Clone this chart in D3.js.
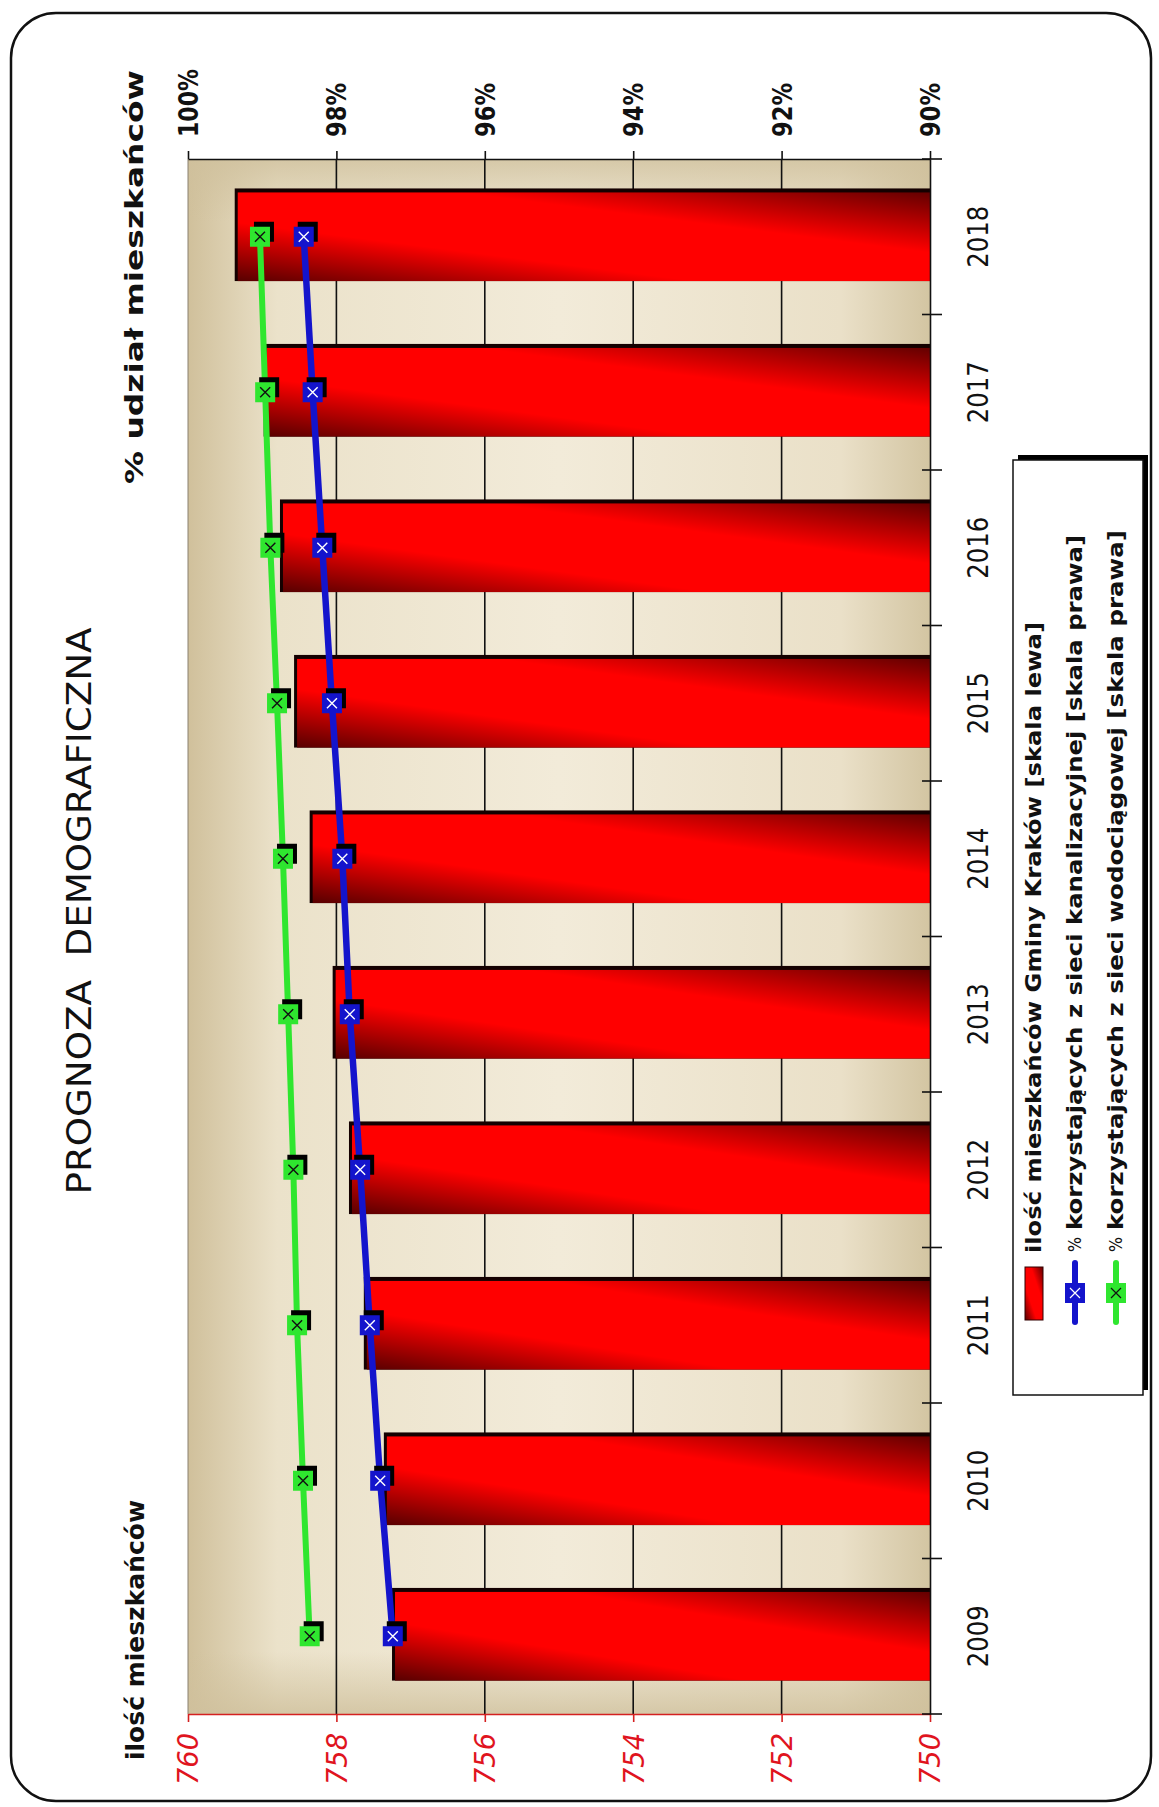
<!DOCTYPE html>
<html>
<head>
<meta charset="utf-8">
<script src="https://cdn.jsdelivr.net/npm/d3@7"></script>
<style>
  body { margin: 0; background: #fff; }
  svg { display: block; }
  text { font-family: "Liberation Sans Narrow", "DejaVu Sans Condensed", "Arial Narrow", sans-serif; white-space: pre; }
</style>
</head>
<body>
<div id="chart"></div>
<script>
// DATA
const years = ["2009", "2010", "2011", "2012", "2013", "2014", "2015", "2016", "2017", "2018"];
const residents = [757.21, 757.32, 757.59, 757.79, 758.01, 758.32, 758.53, 758.72, 758.94, 759.33]; // skala lewa
const sewerPct = [97.24, 97.41, 97.55, 97.68, 97.82, 97.92, 98.06, 98.19, 98.32, 98.44];   // kanalizacja, skala prawa
const waterPct = [98.36, 98.45, 98.53, 98.58, 98.65, 98.72, 98.80, 98.89, 98.96, 99.03];   // wodociąg, skala prawa
const leftTicks = [760, 758, 756, 754, 752, 750];
const rightTicks = [100, 98, 96, 94, 92, 90];

const legendLabels = [
    "ilość mieszkańców Gminy Kraków [skala lewa]",
    "korzystających z sieci kanalizacyjnej [skala prawa]",
    "korzystających z sieci wodociągowej [skala prawa]"
];

const W = 1159, H = 1807;
// plot box (chart is drawn turned on its side)
const plot = { left: 188, right: 930, top: 159, bottom: 1714 };

const svg = d3.select("#chart")
    .append("svg")
    .attr("width", W)
    .attr("height", H);

const defs = svg.append("defs");

// background of plot
const bgH = defs.append("linearGradient").attr("id", "bgH");
[[0, "#d0c09b"], [0.12, "#ebe2ca"], [0.5, "#f2ebd9"], [0.88, "#eae0c8"], [1, "#d3c5a2"]]
    .forEach(s => bgH.append("stop").attr("offset", s[0]).attr("stop-color", s[1]));
const bgV = defs.append("linearGradient").attr("id", "bgV").attr("x1", 0).attr("y1", 0).attr("x2", 0).attr("y2", 1);
[[0, "#cfc09c", 0.8], [0.04, "#cfc09c", 0], [0.96, "#cfc09c", 0], [1, "#cfc09c", 0.8]]
    .forEach(s => bgV.append("stop").attr("offset", s[0]).attr("stop-color", s[1]).attr("stop-opacity", s[2]));

// bar fill
const barG = defs.append("linearGradient").attr("id", "barG")
    .attr("x1", 0).attr("y1", 1).attr("x2", 1).attr("y2", 0);
[[0, "#580000"], [0.33, "#ff0000"], [0.66, "#ff0000"], [1, "#640000"]]
    .forEach(s => barG.append("stop").attr("offset", s[0]).attr("stop-color", s[1]));

// SCALES
const xLeft = d3.scaleLinear().domain([750, 760]).range([plot.right, plot.left]);
const xPct = d3.scaleLinear().domain([90, 100]).range([plot.right, plot.left]);
const y = d3.scaleBand()
    .domain(years)
    .range([plot.bottom, plot.top])
    .paddingInner(0.43)
    .paddingOuter(0.215);
const bw = y.bandwidth();

// FRAME
svg.append("rect")
    .attr("x", 11).attr("y", 13)
    .attr("width", 1140).attr("height", 1788)
    .attr("rx", 45)
    .attr("fill", "#fff")
    .attr("stroke", "#111")
    .attr("stroke-width", 2.5);

// PLOT BACKGROUND
svg.append("rect")
    .attr("x", plot.left).attr("y", plot.top)
    .attr("width", plot.right - plot.left).attr("height", plot.bottom - plot.top)
    .attr("fill", "url(#bgH)");
svg.append("rect")
    .attr("x", plot.left).attr("y", plot.top)
    .attr("width", plot.right - plot.left).attr("height", plot.bottom - plot.top)
    .attr("fill", "url(#bgV)");
svg.append("line")
    .attr("x1", plot.left).attr("x2", plot.left)
    .attr("y1", plot.top).attr("y2", plot.bottom)
    .attr("stroke", "#8a8070").attr("stroke-width", 1);

// GRID
svg.append("g")
    .selectAll("line")
    .data(leftTicks.slice(1, -1))
    .join("line")
    .attr("x1", d => xLeft(d)).attr("x2", d => xLeft(d))
    .attr("y1", plot.top).attr("y2", plot.bottom)
    .attr("stroke", "#111").attr("stroke-width", 1.6);

// BARS
const bars = svg.append("g");
bars.selectAll(".shadow")
    .data(years)
    .join("rect")
    .attr("class", "shadow")
    .attr("x", (d, i) => xLeft(residents[i]) - 3)
    .attr("y", d => y(d) - 4)
    .attr("width", (d, i) => xLeft(750) - xLeft(residents[i]) + 3)
    .attr("height", bw + 4)
    .attr("fill", "#140000");
bars.selectAll(".bar")
    .data(years)
    .join("rect")
    .attr("class", "bar")
    .attr("x", (d, i) => xLeft(residents[i]))
    .attr("y", d => y(d))
    .attr("width", (d, i) => xLeft(750) - xLeft(residents[i]))
    .attr("height", bw)
    .attr("fill", "url(#barG)");

// LINES + MARKERS
const series = [
    { values: waterPct, color: "#2fe62f", cross: "#111", width: 6 },
    { values: sewerPct, color: "#1414cc", cross: "#fff", width: 6.5 }
];
const line = d3.line()
    .x(d => xPct(d.v))
    .y(d => y(d.year) + bw / 2);

series.forEach(s => {
    const pts = years.map((yr, i) => ({ year: yr, v: s.values[i] }));
    svg.append("path")
        .datum(pts)
        .attr("d", line)
        .attr("fill", "none")
        .attr("stroke", s.color)
        .attr("stroke-width", s.width)
        .attr("stroke-linejoin", "round");

    const m = svg.append("g")
        .selectAll("g")
        .data(pts)
        .join("g")
        .attr("transform", d => `translate(${xPct(d.v)}, ${y(d.year) + bw / 2})`);
    m.append("rect")
        .attr("x", -6).attr("y", -15).attr("width", 20).attr("height", 20)
        .attr("fill", "#000");
    m.append("rect")
        .attr("x", -10).attr("y", -10).attr("width", 20).attr("height", 20)
        .attr("fill", s.color);
    m.append("path")
        .attr("d", "M-5,-5L5,5M-5,5L5,-5")
        .attr("stroke", s.cross).attr("stroke-width", 1.4);
});

// AXES
// right scale (percent) along the top
const pctAxis = svg.append("g")
    .attr("transform", `translate(0, ${plot.top})`)
    .call(d3.axisTop(xPct).tickValues(rightTicks).tickFormat(d => d + "%").tickSize(8).tickSizeOuter(0));
pctAxis.select(".domain").attr("stroke", "#111").attr("stroke-width", 1.6);
pctAxis.selectAll(".tick line").attr("stroke", "#111").attr("stroke-width", 1.6);
pctAxis.selectAll(".tick text")
    .attr("transform", "rotate(-90)")
    .attr("x", 22).attr("y", 0).attr("dy", "0.35em")
    .attr("text-anchor", "start")
    .attr("font-size", 27).attr("font-weight", "bold")
    .attr("fill", "#111")
    .attr("textLength", d => d === 100 ? 68 : 54)
    .attr("lengthAdjust", "spacingAndGlyphs");

// left scale (residents) along the bottom
const resAxis = svg.append("g")
    .attr("transform", `translate(0, ${plot.bottom})`)
    .call(d3.axisBottom(xLeft).tickValues(leftTicks).tickSize(8).tickSizeOuter(0));
resAxis.select(".domain").attr("stroke", "#d42020").attr("stroke-width", 1.6);
resAxis.selectAll(".tick line").attr("stroke", "#d42020").attr("stroke-width", 1.6);
resAxis.selectAll(".tick text")
    .attr("transform", "rotate(-90)")
    .attr("x", -19).attr("y", 0).attr("dy", "0.35em")
    .attr("text-anchor", "end")
    .attr("font-size", 28).attr("font-style", "italic")
    .attr("fill", "#e0141e")
    .attr("textLength", 52)
    .attr("lengthAdjust", "spacingAndGlyphs");

// category axis (years) on the right side
const yearAxis = svg.append("g")
    .attr("transform", `translate(${plot.right}, 0)`)
    .call(d3.axisRight(y).tickSize(0).tickSizeOuter(0));
yearAxis.select(".domain").attr("stroke", "#111").attr("stroke-width", 1.6);
yearAxis.selectAll(".tick text")
    .attr("transform", "rotate(-90)")
    .attr("x", 0).attr("y", 48).attr("dy", "0.35em")
    .attr("text-anchor", "middle")
    .attr("font-size", 28)
    .attr("fill", "#111")
    .attr("textLength", 62)
    .attr("lengthAdjust", "spacingAndGlyphs");
const bounds = years.map(d => y(d) - y.step() * y.paddingInner() / 2).concat([plot.bottom]);
yearAxis.append("g")
    .selectAll("line")
    .data(bounds)
    .join("line")
    .attr("x1", -8).attr("x2", 12)
    .attr("y1", d => d).attr("y2", d => d)
    .attr("stroke", "#111").attr("stroke-width", 1.6);

// TITLES
svg.append("text")
    .attr("transform", "translate(79, 911) rotate(-90)")
    .attr("text-anchor", "middle").attr("dy", "0.35em")
    .attr("font-size", 34).attr("fill", "#111")
    .attr("textLength", 567).attr("lengthAdjust", "spacingAndGlyphs")
    .text("PROGNOZA  DEMOGRAFICZNA");

svg.append("text")
    .attr("transform", "translate(135, 1760) rotate(-90)")
    .attr("text-anchor", "start").attr("dy", "0.35em")
    .attr("font-size", 25).attr("font-weight", "bold").attr("fill", "#111")
    .attr("textLength", 260).attr("lengthAdjust", "spacingAndGlyphs")
    .text("ilość mieszkańców");

svg.append("text")
    .attr("transform", "translate(134, 484) rotate(-90)")
    .attr("text-anchor", "start").attr("dy", "0.35em")
    .attr("font-size", 25).attr("font-weight", "bold").attr("fill", "#111")
    .attr("textLength", 414).attr("lengthAdjust", "spacingAndGlyphs")
    .text("% udział mieszkańców");

// LEGEND
const legend = svg.append("g");
legend.append("rect")
    .attr("x", 1018).attr("y", 455).attr("width", 130).attr("height", 935)
    .attr("fill", "#000");
legend.append("rect")
    .attr("x", 1013).attr("y", 460).attr("width", 130).attr("height", 935)
    .attr("fill", "#fff").attr("stroke", "#111").attr("stroke-width", 1.5);

const legendX = [1034, 1075, 1116];
const legendEnd = [622, 535, 530];

legend.append("rect")
    .attr("x", 1025).attr("y", 1267).attr("width", 18).attr("height", 53)
    .attr("fill", "url(#barG)").attr("stroke", "#300").attr("stroke-width", 1);
legend.append("text")
    .attr("transform", `translate(${legendX[0]}, 1253) rotate(-90)`)
    .attr("dy", "0.35em").attr("font-size", 21).attr("font-weight", "bold").attr("fill", "#111")
    .attr("textLength", 1253 - legendEnd[0]).attr("lengthAdjust", "spacingAndGlyphs")
    .text(legendLabels[0]);

[series[1], series[0]].forEach((s, k) => {
    const cx = legendX[k + 1];
    legend.append("line")
        .attr("x1", cx).attr("x2", cx).attr("y1", 1263).attr("y2", 1322)
        .attr("stroke", s.color).attr("stroke-width", 6).attr("stroke-linecap", "round");
    legend.append("rect")
        .attr("x", cx - 10).attr("y", 1283).attr("width", 20).attr("height", 20)
        .attr("fill", s.color);
    legend.append("path")
        .attr("transform", `translate(${cx}, 1293)`)
        .attr("d", "M-5,-5L5,5M-5,5L5,-5")
        .attr("stroke", s.cross).attr("stroke-width", 1.2);
    legend.append("text")
        .attr("transform", `translate(${cx}, 1252) rotate(-90)`)
        .attr("dy", "0.35em").attr("font-size", 17).attr("fill", "#111")
        .attr("textLength", 15).attr("lengthAdjust", "spacingAndGlyphs")
        .text("%");
    legend.append("text")
        .attr("transform", `translate(${cx}, 1230) rotate(-90)`)
        .attr("dy", "0.35em").attr("font-size", 21).attr("font-weight", "bold").attr("fill", "#111")
        .attr("textLength", 1230 - legendEnd[k + 1]).attr("lengthAdjust", "spacingAndGlyphs")
        .text(legendLabels[k + 1]);
});
</script>
</body>
</html>
